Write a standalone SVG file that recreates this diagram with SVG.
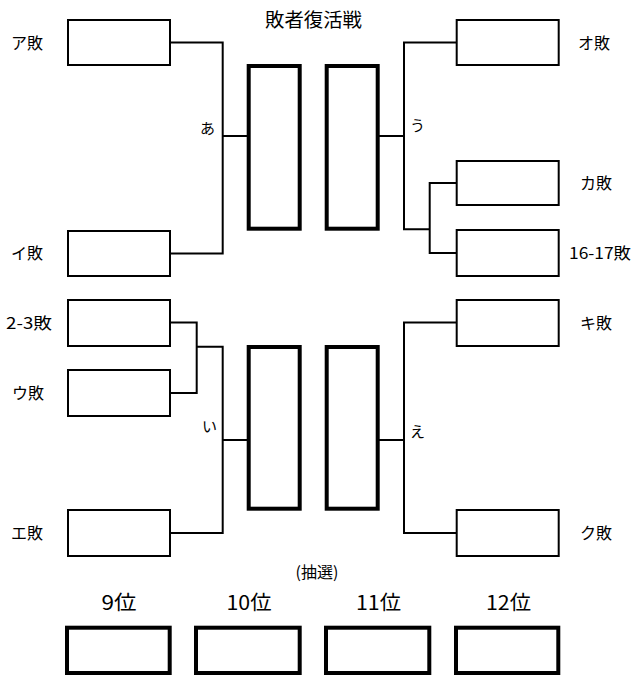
<svg xmlns="http://www.w3.org/2000/svg" width="638" height="675" viewBox="0 0 638 675">
<style>
text{font-family:"Noto Sans CJK JP","Noto Sans",sans-serif;fill:#000}
.lbl{font-size:16px}
.sm{font-size:15px}
.title{font-size:19px}
.note{font-size:16px}
.rank{font-size:20px}
.thin{fill:#fff;stroke:#000;stroke-width:2}
.thick{fill:#fff;stroke:#000;stroke-width:4}
.conn{fill:none;stroke:#000;stroke-width:2}
</style>
<rect width="638" height="675" fill="#fff"/>
<text class="title" x="265" y="27" textLength="97" lengthAdjust="spacingAndGlyphs">敗者復活戦</text>
<g id="connectors">
<path class="conn" d="M170,42.5 H222.7 V253.5 H170 M222.7,136 H248"/>
<path class="conn" d="M456.7,42.5 H404 V229.3 H429.7 M456.7,183 H429.7 V253 H456.7 M379,136 H404"/>
<path class="conn" d="M170,322.5 H196.7 V393 H170 M196.7,346.7 H222.7 V533 H170 M222.7,440 H248"/>
<path class="conn" d="M456.7,322.5 H404 V533 H456.7 M379,440 H404"/>
</g>
<g id="box-a"><rect class="thin" x="68" y="20" width="102" height="45"/><text class="lbl" x="11" y="49">ア敗</text></g>
<g id="box-i"><rect class="thin" x="68" y="231" width="102" height="45"/><text class="lbl" x="11" y="259">イ敗</text></g>
<g id="box-23"><rect class="thin" x="68" y="300" width="102" height="46"/><text class="lbl" x="6" y="328.5" textLength="46" lengthAdjust="spacingAndGlyphs">2-3敗</text></g>
<g id="box-u"><rect class="thin" x="68" y="370" width="102" height="46"/><text class="lbl" x="12" y="398.5">ウ敗</text></g>
<g id="box-e"><rect class="thin" x="68" y="510" width="102" height="46"/><text class="lbl" x="11" y="539">エ敗</text></g>
<g id="box-o"><rect class="thin" x="456.7" y="20" width="102" height="45"/><text class="lbl" x="578" y="49">オ敗</text></g>
<g id="box-ka"><rect class="thin" x="456.7" y="161" width="102" height="44"/><text class="lbl" x="580" y="189">カ敗</text></g>
<g id="box-1617"><rect class="thin" x="456.7" y="230" width="102" height="46"/><text class="lbl" x="569" y="259" textLength="62" lengthAdjust="spacingAndGlyphs">16-17敗</text></g>
<g id="box-ki"><rect class="thin" x="456.7" y="300" width="102" height="46"/><text class="lbl" x="580" y="329">キ敗</text></g>
<g id="box-ku"><rect class="thin" x="456.7" y="510" width="102" height="46"/><text class="lbl" x="580" y="539">ク敗</text></g>
<g id="match-a"><rect class="thick" x="248.7" y="66" width="51" height="162.7"/><text class="sm" x="200" y="133.5">あ</text></g>
<g id="match-u"><rect class="thick" x="326.7" y="66" width="51" height="162.7"/><text class="sm" x="410" y="130.5">う</text></g>
<g id="match-i"><rect class="thick" x="248.7" y="347" width="51" height="161.7"/><text class="sm" x="202" y="432">い</text></g>
<g id="match-e"><rect class="thick" x="326.7" y="347" width="51" height="161.7"/><text class="sm" x="410" y="437">え</text></g>
<text class="note" x="317" y="578" text-anchor="middle">(抽選)</text>
<g id="rank-9"><text class="rank" x="101.5" y="610" textLength="35" lengthAdjust="spacingAndGlyphs">9位</text><rect class="thick" x="67" y="627.7" width="102.7" height="45.3"/></g>
<g id="rank-10"><text class="rank" x="226.5" y="610" textLength="45" lengthAdjust="spacingAndGlyphs">10位</text><rect class="thick" x="196" y="627.7" width="103.7" height="45.3"/></g>
<g id="rank-11"><text class="rank" x="356" y="610" textLength="45" lengthAdjust="spacingAndGlyphs">11位</text><rect class="thick" x="326" y="627.7" width="103.3" height="45.3"/></g>
<g id="rank-12"><text class="rank" x="486" y="610" textLength="45" lengthAdjust="spacingAndGlyphs">12位</text><rect class="thick" x="456" y="627.7" width="102.3" height="45.3"/></g>
</svg>
